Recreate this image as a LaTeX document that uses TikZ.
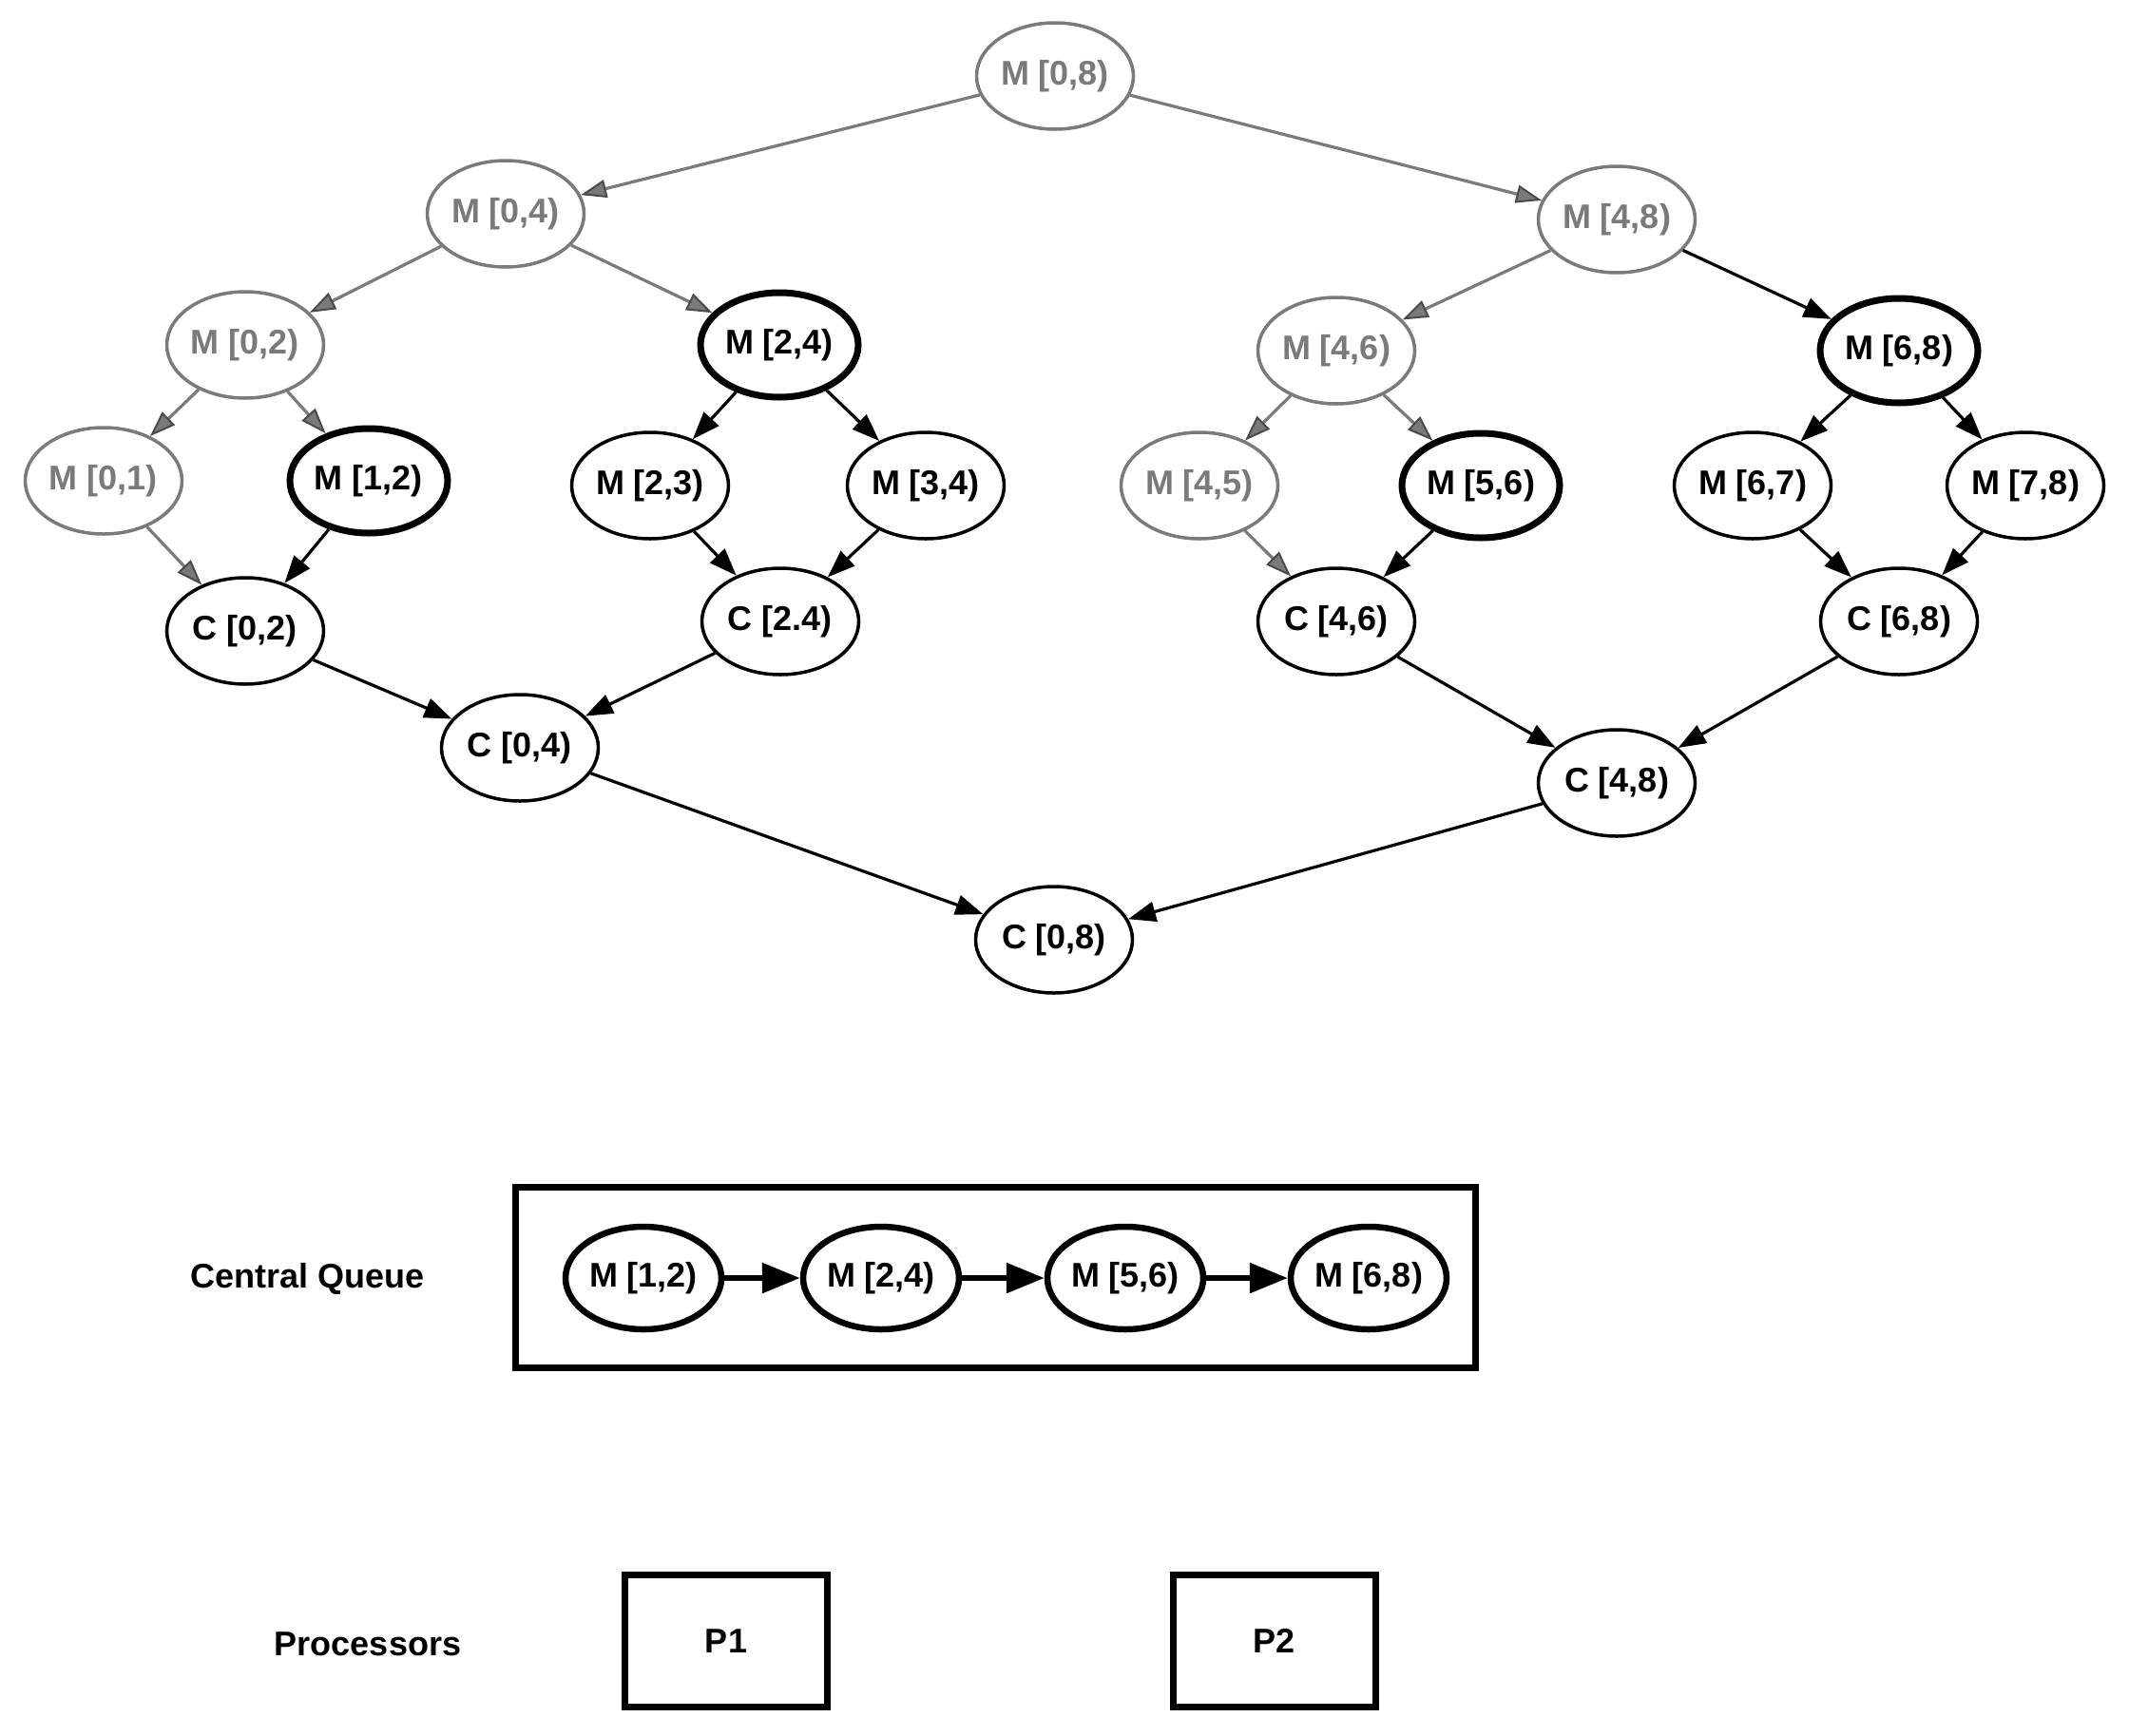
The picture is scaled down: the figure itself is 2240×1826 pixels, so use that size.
\documentclass[tikz,border=0pt]{standalone}
\usepackage{fontspec}
\setmainfont{Liberation Sans}
\usetikzlibrary{shapes.geometric,arrows.meta}
\definecolor{fg}{HTML}{7A7A7A}
\definecolor{fgd}{HTML}{4A4A4A}
\begin{document}
\begin{tikzpicture}[x=1pt,y=-1pt,
  every node/.style={font=\fontsize{36}{42}\selectfont\bfseries},
  nd/.style={ellipse, draw, line width=3.5pt, minimum width=165pt, minimum height=112pt, inner sep=0pt},
  gnd/.style={nd, draw=fg, text=fg},
  tnd/.style={nd, line width=7pt, minimum width=166pt, minimum height=110pt},
  qnd/.style={nd, line width=6.5pt, minimum width=164pt, minimum height=108pt},
  pbox/.style={draw, line width=7pt, minimum width=213pt, minimum height=139pt, inner sep=0pt},
  lbl/.style={inner sep=0pt},
  ge/.style={draw=fg, line width=3.2pt, -{Triangle[length=27pt,width=19pt,color=fgd,fill=fg,line width=2pt]}},
  be/.style={draw, line width=3.2pt, -{Triangle[length=29pt,width=21pt]}},
  qe/.style={draw, line width=6pt, -{Triangle[length=40pt,width=31pt]}}
]
\useasboundingbox (0,0) rectangle (2240,1826);

% tree nodes
\node[gnd] (m08) at (1110,80) {M [0,8)};
\node[gnd] (m04) at (532,225) {M [0,4)};
\node[gnd] (m48) at (1701,231) {M [4,8)};
\node[gnd] (m02) at (258,363) {M [0,2)};
\node[tnd] (m24) at (820,363) {M [2,4)};
\node[gnd] (m46) at (1406,369) {M [4,6)};
\node[tnd] (m68) at (1998,369) {M [6,8)};
\node[gnd] (m01) at (109,506) {M [0,1)};
\node[tnd] (m12) at (388,506) {M [1,2)};
\node[nd]  (m23) at (684,511) {M [2,3)};
\node[nd]  (m34) at (974,511) {M [3,4)};
\node[gnd] (m45) at (1262,511) {M [4,5)};
\node[tnd] (m56) at (1558,511) {M [5,6)};
\node[nd]  (m67) at (1844,511) {M [6,7)};
\node[nd]  (m78) at (2131,511) {M [7,8)};
\node[nd]  (c02) at (258,664) {C [0,2)};
\node[nd]  (c24) at (821,654) {C [2.4)};
\node[nd]  (c46) at (1406,654) {C [4,6)};
\node[nd]  (c68) at (1998,654) {C [6,8)};
\node[nd]  (c04) at (547,787) {C [0,4)};
\node[nd]  (c48) at (1701,824) {C [4,8)};
\node[nd]  (c08) at (1109,989) {C [0,8)};

% tree edges
\draw[ge] (m08) -- (m04);
\draw[ge] (m08) -- (m48);
\draw[ge] (m04) -- (m02);
\draw[ge] (m04) -- (m24);
\draw[ge] (m48) -- (m46);
\draw[be] (m48) -- (m68);
\draw[ge] (m02) -- (m01);
\draw[ge] (m02) -- (m12);
\draw[be] (m24) -- (m23);
\draw[be] (m24) -- (m34);
\draw[ge] (m46) -- (m45);
\draw[ge] (m46) -- (m56);
\draw[be] (m68) -- (m67);
\draw[be] (m68) -- (m78);
\draw[ge] (m01) -- (c02);
\draw[be] (m12) -- (c02);
\draw[be] (m23) -- (c24);
\draw[be] (m34) -- (c24);
\draw[ge] (m45) -- (c46);
\draw[be] (m56) -- (c46);
\draw[be] (m67) -- (c68);
\draw[be] (m78) -- (c68);
\draw[be] (c02) -- (c04);
\draw[be] (c24) -- (c04);
\draw[be] (c46) -- (c48);
\draw[be] (c68) -- (c48);
\draw[be] (c04) -- (c08);
\draw[be] (c48) -- (c08);

% central queue
\node[lbl] (cqlabel) at (324,1346) {Central Queue};
\node[draw, line width=7pt, minimum width=1010pt, minimum height=190pt, inner sep=0pt] (queue) at (1047.5,1344.5) {};
\node[qnd] (q1) at (677,1345) {M [1,2)};
\node[qnd] (q2) at (927,1345) {M [2,4)};
\node[qnd] (q3) at (1184,1345) {M [5,6)};
\node[qnd] (q4) at (1440,1345) {M [6,8)};
\draw[qe] (q1) -- (q2);
\draw[qe] (q2) -- (q3);
\draw[qe] (q3) -- (q4);

% processors
\node[lbl] (plabel) at (387,1730) {Processors};
\node[pbox] (p1) at (764,1727) {P1};
\node[pbox] (p2) at (1340.5,1727) {P2};
\end{tikzpicture}
\end{document}
